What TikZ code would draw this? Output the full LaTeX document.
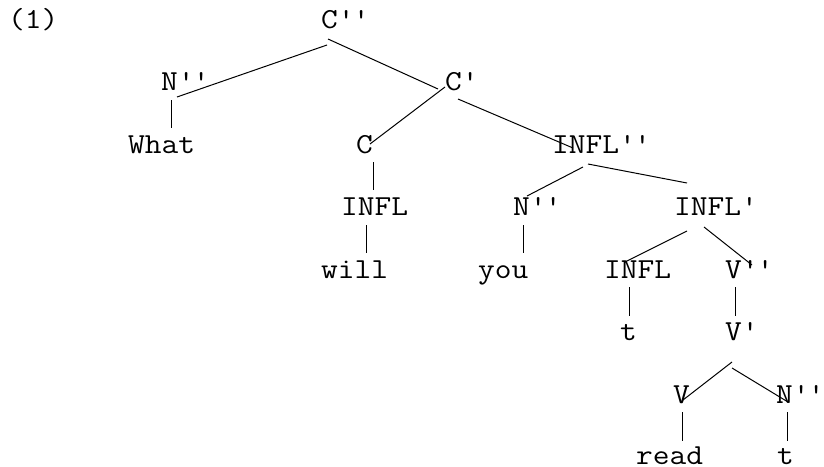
\documentclass[tikz,border=0pt]{standalone}
\usepackage{fontspec}
\setmonofont[FakeStretch=1.12]{Latin Modern Mono}
\newcommand{\tck}{\textquotesingle}
\begin{document}
\begin{tikzpicture}[x=1pt,y=-1pt,
  lbl/.style={anchor=base west, inner sep=0pt, font=\ttfamily\fontsize{29}{34}\selectfont},
  edge/.style={line width=1pt}]
\useasboundingbox (0,0) rectangle (824,466);
\clip (0,0) rectangle (824,466);
\node[lbl] (ex)   at (8,28)    {(1)};
\node[lbl] (Cpp)  at (321,28)  {C\tck\tck};
\node[lbl] (Npp1) at (161,90)  {N\tck\tck};
\node[lbl] (Cp)   at (445,90)  {C\tck};
\node[lbl] (what) at (128,153) {What};
\node[lbl] (C)    at (356,153) {C};
\node[lbl] (Ipp)  at (552,153) {INFL\tck\tck};
\node[lbl] (I1)   at (341,215) {INFL};
\node[lbl] (Npp2) at (513,215) {N\tck\tck};
\node[lbl] (Ip)   at (674,215) {INFL\tck};
\node[lbl] (will) at (321,278) {will};
\node[lbl] (you)  at (478,278) {you};
\node[lbl] (I2)   at (604,278) {INFL};
\node[lbl] (Vpp)  at (725,278) {V\tck\tck};
\node[lbl] (t1)   at (620,340) {t};
\node[lbl] (Vp)   at (725,340) {V\tck};
\node[lbl] (V)    at (673,403) {V};
\node[lbl] (Npp3) at (776,403) {N\tck\tck};
\node[lbl] (read) at (636,464) {read};
\node[lbl] (t2)   at (777,464) {t};
\draw[edge] ([shift={(6,17)}]Cpp.base west) -- ([shift={(16,7)}]Npp1.base west);
\draw[edge] ([shift={(7,11)}]Cpp.base west) -- ([shift={(-7,-1)}]Cp.base west);
\draw[edge] ([shift={(10,10)}]Npp1.base west) -- ([shift={(43,-25)}]what.base west);
\draw[edge] ([shift={(0,-3)}]Cp.base west) -- ([shift={(14,-9)}]C.base west);
\draw[edge] ([shift={(13,9)}]Cp.base west) -- ([shift={(21,-5)}]Ipp.base west);
\draw[edge] ([shift={(17,9)}]C.base west) -- ([shift={(32,-25)}]I1.base west);
\draw[edge] ([shift={(31,14)}]Ipp.base west) -- ([shift={(14,-19)}]Npp2.base west);
\draw[edge] ([shift={(36,11)}]Ipp.base west) -- ([shift={(13,-32)}]Ip.base west);
\draw[edge] ([shift={(25,10)}]I1.base west) -- ([shift={(45,-25)}]will.base west);
\draw[edge] ([shift={(10,10)}]Npp2.base west) -- ([shift={(45,-25)}]you.base west);
\draw[edge] ([shift={(13,16)}]Ip.base west) -- ([shift={(21,-16)}]I2.base west);
\draw[edge] ([shift={(30,12)}]Ip.base west) -- ([shift={(27,-13)}]Vpp.base west);
\draw[edge] ([shift={(25,9)}]I2.base west) -- ([shift={(9,-24)}]t1.base west);
\draw[edge] ([shift={(10,9)}]Vpp.base west) -- ([shift={(10,-24)}]Vp.base west);
\draw[edge] ([shift={(7,22)}]Vp.base west) -- ([shift={(10,-3)}]V.base west);
\draw[edge] ([shift={(7,28)}]Vp.base west) -- ([shift={(12,-1)}]Npp3.base west);
\draw[edge] ([shift={(9,9)}]V.base west) -- ([shift={(46,-23)}]read.base west);
\draw[edge] ([shift={(11,9)}]Npp3.base west) -- ([shift={(10,-23)}]t2.base west);
\end{tikzpicture}
\end{document}
